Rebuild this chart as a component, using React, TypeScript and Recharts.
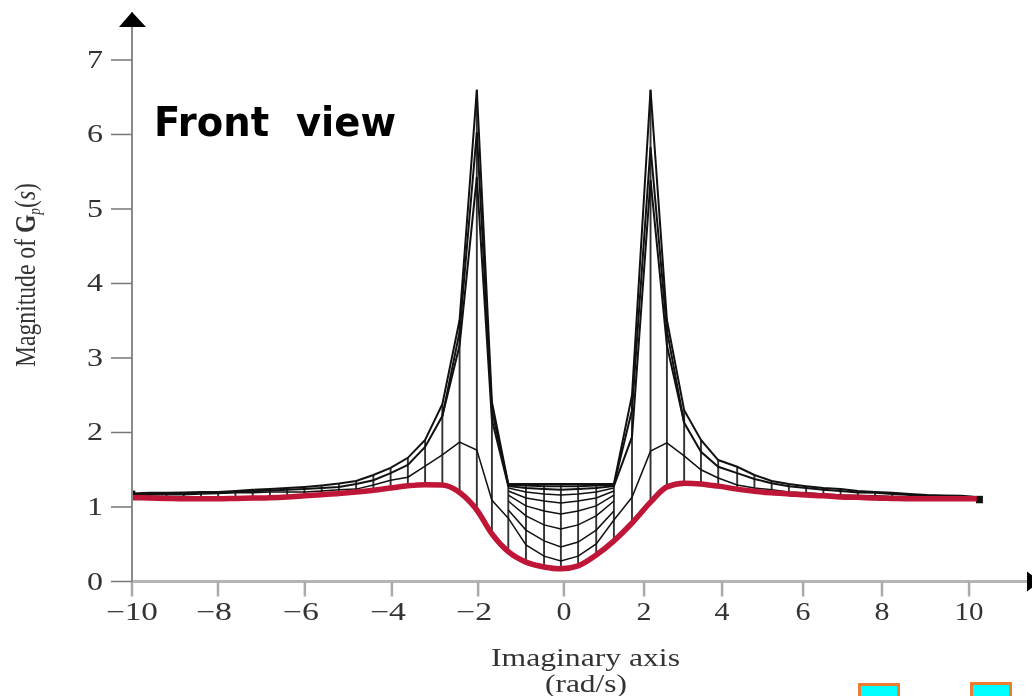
import React from 'react';
import { LineChart, Line, XAxis, YAxis, ReferenceLine, ReferenceDot, Customized } from 'recharts';

// Mesh columns along the imaginary axis (drawn positions, rad/s)
const meshX = [-10,-9.6,-9.2,-8.8,-8.4,-8,-7.6,-7.2,-6.8,-6.4,-6,-5.6,-5.2,-4.8,-4.4,-4,-3.6,-3.2,-2.8,-2.4,-2,-1.65,-1.27,-0.86,-0.44,-0.05,0.35,0.77,1.18,1.6,2.03,2.41,2.81,3.2,3.6,4.04,4.44,4.84,5.24,5.64,6.04,6.44,6.84,7.24,7.64,8.04,8.44,8.84,9.24,9.6];

// Full-length mesh rows
const rowA = [1.18,1.19,1.19,1.195,1.2,1.2,1.215,1.23,1.24,1.255,1.27,1.29,1.315,1.35,1.43,1.525,1.66,1.9,2.38,3.51,6.6,2.41,1.31,1.31,1.31,1.31,1.31,1.31,1.31,2.5,6.6,3.51,2.3,1.9,1.63,1.54,1.43,1.35,1.31,1.28,1.255,1.24,1.215,1.2,1.19,1.175,1.16,1.155,1.15,1.135];
const rowB = [1.175,1.175,1.175,1.18,1.19,1.19,1.2,1.21,1.22,1.23,1.24,1.255,1.27,1.31,1.36,1.455,1.565,1.805,2.22,3.35,6.03,2.3,1.295,1.29,1.28,1.28,1.28,1.29,1.295,2.3,5.83,3.37,2.13,1.74,1.54,1.455,1.375,1.32,1.28,1.255,1.23,1.215,1.195,1.19,1.175,1.16,1.15,1.14,1.135,1.12];
const rowD = [1.16,1.16,1.165,1.165,1.175,1.18,1.19,1.19,1.2,1.2,1.2,1.215,1.23,1.24,1.295,1.36,1.4,1.55,1.7,1.87,1.765,1.09,0.85,0.49,0.34,0.275,0.34,0.505,0.825,1.13,1.75,1.86,1.685,1.5,1.39,1.295,1.255,1.23,1.2,1.19,1.175,1.16,1.155,1.15,1.14,1.135,1.13,1.12,1.12,1.11];
const redCurve = [1.125,1.12,1.115,1.11,1.11,1.11,1.115,1.12,1.125,1.135,1.15,1.165,1.18,1.2,1.225,1.255,1.285,1.3,1.295,1.195,0.96,0.64,0.4,0.26,0.195,0.17,0.21,0.355,0.545,0.785,1.065,1.27,1.32,1.31,1.28,1.24,1.21,1.19,1.175,1.16,1.15,1.135,1.13,1.12,1.115,1.11,1.11,1.11,1.11,1.11];

// Partial rows: rowC spans columns 18..32, the others columns 22..28
const rowC = [2.22,3.17,5.43,2.17,1.28,1.255,1.24,1.23,1.24,1.255,1.28,1.94,5.39,3.17,2.13];
const rowE = [1.255,1.2,1.175,1.16,1.175,1.2,1.255];
const rowF = [1.215,1.12,1.08,1.055,1.08,1.12,1.215];
const rowG = [1.16,1.015,0.945,0.905,0.945,1.015,1.16];
const rowH = [1.08,0.88,0.76,0.705,0.76,0.88,1.08];
const rowI = [0.96,0.69,0.545,0.465,0.53,0.69,0.945];

// Dark blocks at the two ends of the mesh: [x, low, high]
const leftCap = [-9.97, 1.1, 1.22];
const rightCap = [9.66, 1.05, 1.15];

// Ticks: drawn position and printed label
const xTickPos = [-10,-8.005,-5.99,-3.97,-1.97,0.02,1.88,3.69,5.57,7.4,9.42];
const xTickLabels = ['\u221210','\u22128','\u22126','\u22124','\u22122','0','2','4','6','8','10'];
const yTicks = [0,1,2,3,4,5,6,7];

const table = meshX.map((x, k) => ({
  x,
  A: rowA[k],
  B: rowB[k],
  D: rowD[k],
  red: redCurve[k],
  C: rowC[k - 18],
  E: rowE[k - 22],
  F: rowF[k - 22],
  G: rowG[k - 22],
  H: rowH[k - 22],
  I: rowI[k - 22],
}));

const serif = '"Liberation Serif", serif';
const inkText = '#333';

const XTick = ({ x, y, payload }: any) => {
  const i = xTickPos.indexOf(payload.value);
  const label = xTickLabels[i];
  const neg = label[0] === '\u2212';
  const wide = label.length === 3 ? 52 : neg ? 36 : label.length === 2 ? 29 : 15;
  const shift = neg && label.length === 2 ? -4 : 0;
  return (
    <text x={x + shift} y={y + 23.5} textAnchor="middle" fontFamily={serif} fontSize={25} fill={inkText}
      textLength={wide} lengthAdjust="spacingAndGlyphs">{label}</text>
  );
};

const YTick = ({ x, y, payload }: any) => (
  <text x={x - 16} y={y + 8} textAnchor="middle" fontFamily={serif} fontSize={25} fill={inkText}
    textLength={16} lengthAdjust="spacingAndGlyphs">{payload.value}</text>
);

const UpArrow = ({ cx, cy }: any) => <polygon points={`${cx},${cy} ${cx - 13},${cy + 15} ${cx + 14},${cy + 15}`} fill="#000" />;
const RightArrow = ({ cx, cy }: any) => <polygon points={`${cx - 5},${cy - 10} ${cx - 5},${cy + 10} ${cx + 8},${cy}`} fill="#000" />;

const Annotations = () => (
  <g>
    <text x={154} y={136} fontFamily='"DejaVu Sans", sans-serif' fontWeight={700} fontSize={41} fill="#000"
      textLength={242} lengthAdjust="spacingAndGlyphs">Front{'\u00a0\u00a0'}view</text>
    <text transform="translate(35,367) rotate(-90)" fontFamily={serif} fontSize={30} fill={inkText}
      textLength={184} lengthAdjust="spacingAndGlyphs">
      Magnitude of <tspan fontWeight={700}>G</tspan><tspan fontSize={17} dy={5} fontStyle="italic">p</tspan><tspan dy={-5}>(</tspan><tspan fontStyle="italic">s</tspan>)
    </text>
    <text x={585.5} y={666} textAnchor="middle" fontFamily={serif} fontSize={25} fill={inkText}
      textLength={189} lengthAdjust="spacingAndGlyphs">Imaginary axis</text>
    <text x={586} y={692} textAnchor="middle" fontFamily={serif} fontSize={25} fill={inkText}
      textLength={82} lengthAdjust="spacingAndGlyphs">(rad/s)</text>
    <rect x={859.5} y={684.5} width={39} height={20} fill="#00ffff" stroke="#ed7d31" strokeWidth={3} />
    <rect x={971.5} y={683.5} width={39} height={20} fill="#00ffff" stroke="#ed7d31" strokeWidth={3} />
  </g>
);

export default function App() {
  const heavyRows = ['A', 'B', 'C'];
  const lightRows = ['D', 'E', 'F', 'G', 'H', 'I'];
  return (
    <div style={{ position: 'absolute', left: 0, top: 0, width: 1032, height: 696, overflow: 'hidden', background: '#fff', filter: 'blur(0.55px)' }}>
      <LineChart width={1032} height={696} data={table} margin={{ top: 12, right: 0, bottom: 0, left: 0 }}>
        <XAxis dataKey="x" type="number" domain={[-10, 10.88]} ticks={xTickPos} interval={0} height={114.5}
          axisLine={{ stroke: '#b5b5b5', strokeWidth: 3 }} tickLine={{ stroke: '#aaa', strokeWidth: 2.5 }} tickSize={15} tickMargin={0} tick={<XTick />} />
        <YAxis type="number" domain={[0, 7.644]} ticks={yTicks} interval={0} width={132}
          axisLine={{ stroke: '#8a8a8a', strokeWidth: 2 }} tickLine={{ stroke: '#777', strokeWidth: 1.5 }} tickSize={21} tickMargin={0} tick={<YTick />} />
        {meshX.map((x, k) => (
          <ReferenceLine key={k} segment={[{ x, y: redCurve[k] }, { x, y: rowA[k] }]} stroke="#333" strokeWidth={1.9} />
        ))}
        <ReferenceLine segment={[{ x: leftCap[0], y: leftCap[1] }, { x: leftCap[0], y: leftCap[2] }]} stroke="#111" strokeWidth={4} />
        <ReferenceLine segment={[{ x: rightCap[0], y: rightCap[1] }, { x: rightCap[0], y: rightCap[2] }]} stroke="#111" strokeWidth={7} />
        {heavyRows.map((r) => (
          <Line key={r} dataKey={r} stroke="#111" strokeWidth={2} dot={false} activeDot={false} isAnimationActive={false} legendType="none" />
        ))}
        {lightRows.map((r) => (
          <Line key={r} dataKey={r} stroke="#111" strokeWidth={1.5} dot={false} activeDot={false} isAnimationActive={false} legendType="none" />
        ))}
        <Line dataKey="red" type="monotone" stroke="#bf1537" strokeWidth={5.5} dot={false} activeDot={false} isAnimationActive={false} />
        <ReferenceDot x={-10} y={7.644} ifOverflow="visible" shape={<UpArrow />} />
        <ReferenceDot x={10.88} y={0} ifOverflow="visible" shape={<RightArrow />} />
        <Customized component={Annotations} />
      </LineChart>
    </div>
  );
}
